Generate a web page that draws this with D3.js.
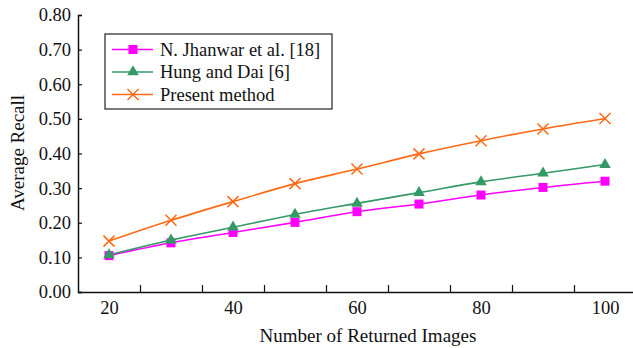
<!DOCTYPE html>
<html>
<head>
<meta charset="utf-8">
<script src="https://cdn.jsdelivr.net/npm/d3@7"></script>
<style>
  body { margin: 0; background: #fff; }
</style>
</head>
<body>
<svg width="633" height="348"></svg>
<script>
'use strict';
var returned = [20, 30, 40, 50, 60, 70, 80, 90, 100];
var jhanwar = [0.105, 0.142, 0.172, 0.201, 0.232, 0.254, 0.280, 0.302, 0.320];
var hungDai = [0.107, 0.150, 0.187, 0.224, 0.256, 0.287, 0.318, 0.343, 0.368];
var present = [0.147, 0.207, 0.261, 0.313, 0.355, 0.399, 0.437, 0.471, 0.501];
var yTicks = [0, 0.1, 0.2, 0.3, 0.4, 0.5, 0.6, 0.7, 0.8];
var xLabels = [20, 40, 60, 80, 100];
var xMinor = [25, 35, 45, 55, 65, 75, 85, 95];
var seriesNames = ['N. Jhanwar et al. [18]', 'Hung and Dai [6]', 'Present method'];

(() => {
  var FONT = 'Liberation Serif';
  var svg = d3.select('svg');
  var COLORS = ['#ff00ff', '#339966', '#ff6a13'];
  var series = [jhanwar, hungDai, present];

  var x = d3.scaleLinear().domain([15, 105]).range([78, 636]);
  var y = d3.scaleLinear().domain([0, 0.8]).range([292, 15]);

  // y axis
  var ya = svg.append('g')
    .attr('transform', 'translate(78,0)')
    .call(d3.axisLeft(y).tickValues(yTicks).tickSize(-4).tickPadding(7)
      .tickFormat(d3.format('.2f')));
  ya.select('.domain').attr('stroke', '#111').attr('stroke-width', 1.5);
  ya.selectAll('.tick line').attr('stroke', '#111').attr('stroke-width', 1.2);

  // x axis: labels, then minor ticks between categories
  var xa = svg.append('g')
    .attr('transform', 'translate(0,292)')
    .call(d3.axisBottom(x).tickValues(xLabels).tickSize(0).tickPadding(9));
  xa.select('.domain').attr('stroke', '#111').attr('stroke-width', 1.5);

  var xt = svg.append('g')
    .attr('transform', 'translate(0,292)')
    .call(d3.axisBottom(x).tickValues(xMinor).tickSize(-7).tickFormat(''));
  xt.select('.domain').remove();
  xt.selectAll('.tick line').attr('stroke', '#111').attr('stroke-width', 1.2);

  [ya, xa].forEach(a => a.attr('font-family', FONT).attr('font-size', 18.5)
    .selectAll('text').attr('fill', '#111'));

  // titles
  svg.append('text')
    .attr('x', 368)
    .attr('y', 342)
    .attr('text-anchor', 'middle')
    .attr('font-family', FONT)
    .attr('font-size', 19)
    .attr('fill', '#111')
    .text('Number of Returned Images');
  svg.append('text')
    .attr('transform', 'translate(24,153) rotate(-90)')
    .attr('text-anchor', 'middle')
    .attr('font-family', FONT)
    .attr('font-size', 19)
    .attr('fill', '#111')
    .text('Average Recall');

  var line = d3.line()
    .x((d, i) => x(returned[i]))
    .y(d => y(d))
    .curve(d3.curveCatmullRom.alpha(0.5));

  function marker(g, k) {
    if (k == 0) {
      g.append('rect')
        .attr('x', -4.5).attr('y', -4.5)
        .attr('width', 9).attr('height', 9)
        .attr('fill', COLORS[0]);
    } else if (k == 1) {
      g.append('path')
        .attr('d', d3.symbol(d3.symbolTriangle, 58)())
        .attr('fill', COLORS[1]);
    } else {
      var s = 5.5;
      g.append('path')
        .attr('d', `M${-s},${-s}L${s},${s}M${-s},${s}L${s},${-s}`)
        .attr('stroke', COLORS[2])
        .attr('stroke-width', 1.5)
        .attr('fill', 'none');
    }
  }

  series.forEach((vals, k) => {
    var g = svg.append('g').attr('class', 'series');
    g.append('path')
      .datum(vals)
      .attr('d', line)
      .attr('fill', 'none')
      .attr('stroke', COLORS[k])
      .attr('stroke-width', 1.6);
    g.selectAll('g.pt').data(vals).enter().append('g')
      .attr('class', 'pt')
      .attr('transform', (d, i) => `translate(${x(returned[i])},${y(d)})`)
      .each(function() { marker(d3.select(this), k); });
  });

  // legend
  var lg = svg.append('g').attr('transform', 'translate(105,34)');
  lg.append('rect')
    .attr('width', 227)
    .attr('height', 75)
    .attr('fill', '#fff')
    .attr('stroke', '#222')
    .attr('stroke-width', 1.2);
  seriesNames.forEach((name, k) => {
    var row = lg.append('g').attr('transform', `translate(0,${15.5 + k * 22.5})`);
    row.append('line')
      .attr('x1', 7).attr('x2', 48)
      .attr('stroke', COLORS[k])
      .attr('stroke-width', 1.6);
    var m = row.append('g').attr('transform', 'translate(28,0)');
    marker(m, k);
    row.append('text')
      .attr('x', 55)
      .attr('dy', '0.35em')
      .attr('font-family', FONT)
      .attr('font-size', 18.5)
      .attr('fill', '#111')
      .text(name);
  });
})();
</script>
</body>
</html>
